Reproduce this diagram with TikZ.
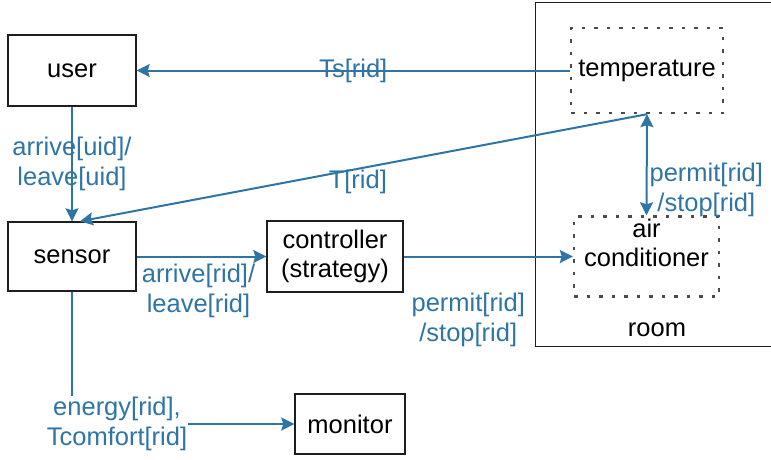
\documentclass[tikz,border=0pt]{standalone}
\usepackage{fontspec}
\setmainfont{Liberation Sans}
\usetikzlibrary{arrows.meta}
\definecolor{flowblue}{RGB}{46,117,166}
\definecolor{edgegray}{RGB}{30,30,30}
\begin{document}
\begin{tikzpicture}[x=1pt,y=-1pt,
  every node/.style={font=\fontsize{25.5}{29.5}\selectfont},
  box/.style={draw=edgegray, line width=1.4pt, inner sep=0pt},
  dotbox/.style={draw=edgegray!80, line width=2.4pt, dash pattern=on 3.5pt off 9pt, inner sep=0pt},
  flow/.style={draw=flowblue, line width=2pt, -{Stealth[length=13pt,width=13pt,inset=2pt]}},
  lbl/.style={text=flowblue, inner sep=1pt, align=center}
]
\useasboundingbox (0,0) rectangle (771,459);
\clip (0,0) rectangle (771,459);

% room container (its right side runs past the page edge)
\node[draw=edgegray, line width=1.3pt, anchor=north west,
      minimum width=245pt, minimum height=344pt] (room) at (535,2) {};
\node (roomlbl) at (657,330) {room};

% components
\node[box, minimum width=128pt, minimum height=71pt] (user) at (72,70.5) {user};
\node[box, minimum width=128pt, minimum height=69pt] (sensor) at (72,256.5) {sensor};
\node[box, minimum width=136pt, minimum height=71pt, align=center] (ctrl) at (335,256.5) {controller\\(strategy)};
\node[box, minimum width=110pt, minimum height=60pt] (monitor) at (350,424) {monitor};
\node[dotbox, minimum width=152pt, minimum height=85pt] (temp) at (647,70.5) {};
\node (templbl) at (647,70.5) {temperature};
\node[dotbox, minimum width=145pt, minimum height=80pt] (ac) at (646.5,256.5) {};
\node[align=center] (aclbl) at (646.5,243) {air\\conditioner};

% message flows
\draw[flow] (temp.west) -- node[lbl]{Ts[rid]} (user.east);
\draw[flow] (user.south) -- node[lbl]{arrive[uid]/\\leave[uid]} (sensor.north);
\draw[flow] (temp.south) -- node[lbl, pos=0.51, yshift=-13pt]{T[rid]} ([xshift=8pt]sensor.north);
\draw[flow, {Stealth[length=13pt,width=13pt,inset=2pt]}-{Stealth[length=13pt,width=13pt,inset=2pt]}]
  (temp.south) -- node[lbl, pos=0.75, anchor=west, xshift=1pt]{permit[rid]\\/stop[rid]} (ac.north);
\draw[flow] (sensor.east) -- node[lbl, anchor=north, yshift=-6pt, xshift=-3pt]{arrive[rid]/\\leave[rid]} (ctrl.west);
\draw[flow] (ctrl.east) -- node[lbl, anchor=north, yshift=-35pt, xshift=-20pt]{permit[rid]\\/stop[rid]} (ac.west);
\draw[flow] (sensor.south) |- node[lbl, fill=white, pos=0.5, xshift=45pt]{energy[rid],\\Tcomfort[rid]} (monitor.west);
\end{tikzpicture}
\end{document}
